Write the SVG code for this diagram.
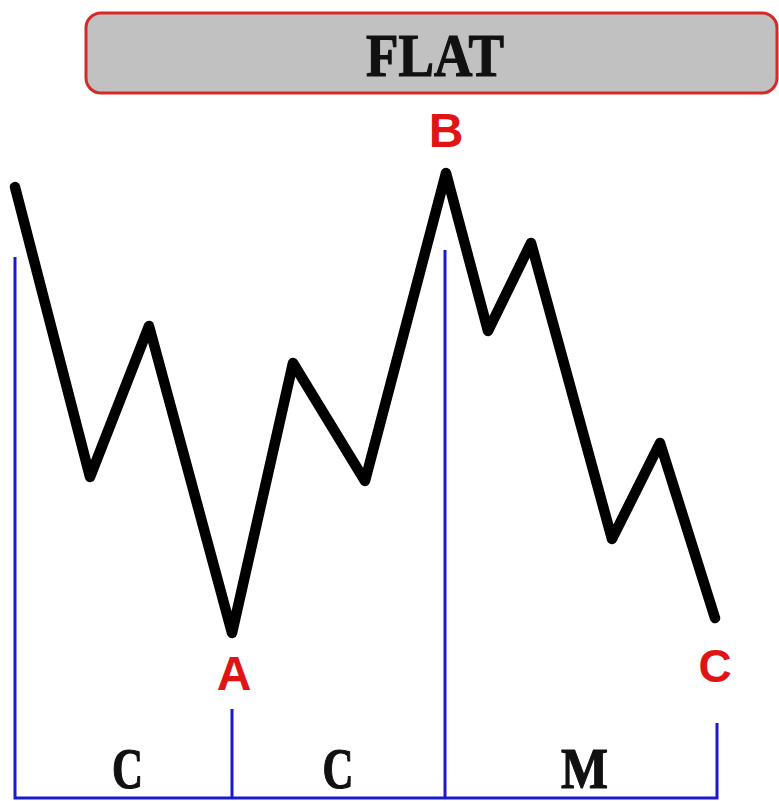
<svg xmlns="http://www.w3.org/2000/svg" width="779" height="801" viewBox="0 0 779 801">
<style>
.title{font-family:"Liberation Serif","DejaVu Serif",serif;font-weight:bold;fill:#111;stroke:#111;stroke-width:1.2}
.pt{font-family:"Liberation Sans",Arial,sans-serif;font-weight:bold;fill:#e01414;text-anchor:middle}
.seg{font-family:"Liberation Serif","DejaVu Serif",serif;font-weight:bold;fill:#111;stroke:#111;stroke-width:1.2;text-anchor:middle}
.blue{stroke:#1a1ad0;stroke-width:3;fill:none}
</style>
<rect width="779" height="801" fill="#ffffff"/>
<g id="title">
<rect x="86" y="13" width="691" height="80" rx="15" ry="15" fill="#c0c1c0" stroke="#d42a2a" stroke-width="3"/>
<text class="title" x="366" y="76" font-size="61" textLength="138" lengthAdjust="spacingAndGlyphs">FLAT</text>
</g>
<g id="connectors">
<polyline fill="none" stroke="#000" stroke-width="10.5" stroke-linejoin="round" stroke-linecap="round" points="15,187 90,477 149,326 232,633 293,363 365,481 446,173 488,331 531,243 612,539 660,443 715,618"/>
<path class="blue" d="M15,257 V798 H717 V723 M232,709 V798 M445,250 V798"/>
</g>
<g id="labelB"><text class="pt" x="446" y="147" font-size="48">B</text></g>
<g id="labelA"><text class="pt" x="234" y="690" font-size="48">A</text></g>
<g id="labelC"><text class="pt" x="715" y="682" font-size="46">C</text></g>
<g id="seg1"><text class="seg" x="127.5" y="788" font-size="56" textLength="31" lengthAdjust="spacingAndGlyphs">C</text></g>
<g id="seg2"><text class="seg" x="338" y="788" font-size="56" textLength="31" lengthAdjust="spacingAndGlyphs">C</text></g>
<g id="seg3"><text class="seg" x="584.5" y="788" font-size="56" textLength="47" lengthAdjust="spacingAndGlyphs">M</text></g>
</svg>
